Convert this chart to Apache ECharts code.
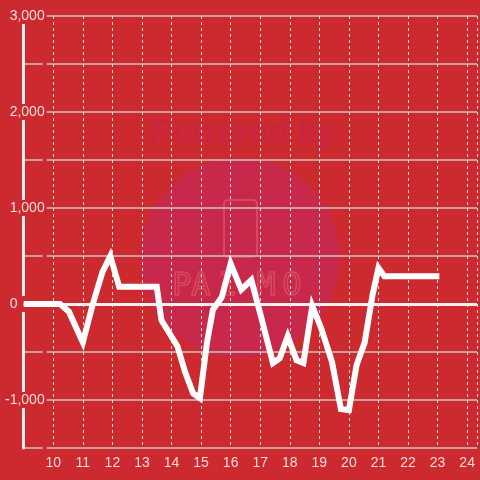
<!DOCTYPE html>
<html>
<head>
<meta charset="utf-8">
<script src="https://cdn.jsdelivr.net/npm/echarts@6/dist/echarts.min.js"></script>
<style>
html,body{margin:0;padding:0;background:#cc2a2f;}
#chart{width:480px;height:480px;}
</style>
</head>
<body>
<div id="chart"></div>
<script>
// hour of day
const hours = [9, 10.23, 10.53, 11.0, 11.33, 11.66, 11.93, 12.23, 13.5, 13.66, 14.2, 14.46, 14.73, 14.96,
  15.2, 15.4, 15.7, 16.0, 16.36, 16.7, 17.06, 17.43, 17.66, 17.93, 18.23, 18.46, 18.76, 19.06,
  19.43, 19.73, 20.0, 20.26, 20.53, 20.8, 21.0, 21.2, 23.06];
const values = [0, 0, -80, -400, -10, 330, 500, 180, 180, -170, -440, -710, -930, -980,
  -400, -60, 70, 420, 150, 250, -170, -615, -565, -335, -585, -615, -20, -250,
  -605, -1095, -1105, -635, -405, 95, 375, 290, 290];
const xTicks = [10, 11, 12, 13, 14, 15, 16, 17, 18, 19, 20, 21, 22, 23, 24];
const yTicks = [-1000, 0, 1000, 2000, 3000];

const bg = '#cc2a2f';
const textColor = '#f2dcdc';
const chart = echarts.init(document.getElementById('chart'));
const pts = hours.map((h, i) => [h, values[i]]);
const paimo = ['P', 'A', 'I', 'M', 'O'];
const paimoX = [182, 201, 228, 266, 292];

function yLabel(v) {
  if (yTicks.indexOf(v) < 0) return '';
  if (v === 0) return '0\u2007\u2007\u2007\u2008';
  return v.toLocaleString('en-US');
}

chart.setOption({
  backgroundColor: bg,
  animation: false,
  grid: { left: 20, right: 0, top: 16, bottom: 32, containLabel: false },
  graphic: [
    { type: 'circle', z: -10, shape: { cx: 240, cy: 258, r: 100 }, style: { fill: '#c8284a' } },
    { type: 'text', z: -9, x: 243, y: 134, style: { text: 'Powered by', fill: '#c92541', font: 'italic bold 33px "Liberation Sans"', align: 'center', verticalAlign: 'middle' } },
    { type: 'rect', z: -9, shape: { x: 224, y: 200, width: 33, height: 57, r: 4 }, style: { fill: 'none', stroke: '#d8465f', lineWidth: 2 } }
  ].concat(paimo.map((ch, i) => ({
    type: 'text', z: -9, x: paimoX[i], y: 287,
    style: { text: ch, fill: 'rgba(0,0,0,0)', stroke: '#d94a60', lineWidth: 1.5, font: '32px "DejaVu Sans Mono"', align: 'center', verticalAlign: 'middle' }
  }))),
  xAxis: {
    type: 'value', min: 9, max: 24.333, interval: 1,
    axisLine: { show: false },
    axisTick: { show: false },
    axisLabel: {
      color: textColor, fontSize: 14, fontFamily: 'Liberation Sans', margin: 8,
      formatter: v => (xTicks.indexOf(v) >= 0 ? String(v) : '')
    },
    splitLine: { show: true, lineStyle: { color: '#e6dede', type: [3, 3], width: 1 } }
  },
  yAxis: {
    type: 'value', min: -1500, max: 3000, interval: 500,
    axisLine: { show: true, lineStyle: { color: '#f3eeee', width: 3 } },
    axisTick: { show: false },
    axisLabel: {
      color: textColor, fontSize: 14, fontFamily: 'Liberation Sans', margin: -23,
      backgroundColor: bg, padding: [1, 2, 1, 2],
      formatter: yLabel
    },
    splitLine: { show: true, lineStyle: { color: '#c9c4c4', width: 1.5 } }
  },
  series: [{
    type: 'line',
    data: pts,
    showSymbol: false,
    symbol: 'none',
    lineStyle: { color: '#ffffff', width: 6, cap: 'butt', join: 'miter' },
    z: 5,
    markLine: {
      silent: true, symbol: 'none', label: { show: false },
      lineStyle: { color: '#f5f0f0', width: 3, type: 'solid' },
      data: [{ yAxis: 0 }]
    }
  }]
});
</script>
</body>
</html>
